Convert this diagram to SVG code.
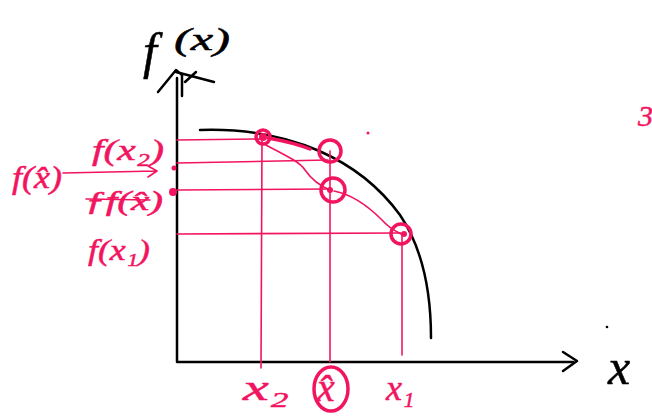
<svg xmlns="http://www.w3.org/2000/svg" width="652" height="416" viewBox="0 0 652 416">
<style>
.ax{fill:none;stroke:#000;stroke-width:2.5;stroke-linecap:round;stroke-linejoin:round}
.pk{fill:none;stroke:#f2145f;stroke-width:1.6;stroke-linecap:round;stroke-linejoin:round}
.pkc{fill:none;stroke:#f2145f;stroke-width:3.5}
.pt{font-family:"Liberation Serif",serif;font-style:italic;fill:#f2145f;stroke:#f2145f;stroke-width:0.5}
.bt{font-family:"Liberation Serif",serif;font-style:italic;fill:#000;stroke:#000;stroke-width:0.5}
</style>
<rect width="652" height="416" fill="#fff"/>
<g id="axes">
<path class="ax" d="M177,78 L177,362 L573,362"/>
<path class="ax" d="M563,352 L577,361 L563,371"/>
<path class="ax" d="M158,92 L176,70 L182,75 M182,75 L182,96 M176,72 L214,82 M185,82 L196,72"/>
<circle cx="607" cy="327" r="1.3" fill="#000"/>
</g>
<g id="curve">
<path class="ax" d="M200,130 C290,127 360,160 400,215 C425,252 431,300 431,338"/>
</g>
<g id="connectors">
<path class="pk" d="M177,140 L262,139"/>
<path class="pk" d="M177,163 L328,160"/>
<path class="pk" d="M177,190 L330,189"/>
<path class="pk" d="M177,234 L401,233"/>
<path class="pk" d="M262,139 L261,368"/>
<path class="pk" d="M330,151 L330,362"/>
<path class="pk" d="M402,234 L402,355"/>
<path class="pk" d="M262,143 C285,155 300,162 305,170 C312,180 320,186 330,190"/>
<path class="pk" d="M334,191 C355,195 372,210 382,220 C388,227 395,231 401,234"/>
<path d="M268,138 C285,141 300,145 310,149" fill="none" stroke="#f2145f" stroke-width="3.5" stroke-linecap="round"/>
<path class="pk" d="M63,173 L156,171 M148,166 L157,171 L148,177"/>
</g>
<g id="points">
<circle class="pkc" cx="263" cy="137" r="7"/>
<circle cx="263" cy="137" r="4" fill="#f2145f"/>
<circle class="pkc" cx="330" cy="151" r="11"/>
<circle class="pkc" cx="333" cy="190" r="12"/>
<circle cx="330" cy="190" r="3" fill="#f2145f"/>
<circle class="pkc" cx="401" cy="234" r="10"/>
<circle cx="404" cy="234" r="3" fill="#f2145f"/>
<circle cx="173" cy="192" r="4" fill="#f2145f"/>
<circle cx="174" cy="168" r="2.5" fill="#f2145f"/>
<circle cx="368" cy="133" r="1.5" fill="#f2145f"/>
</g>
<g id="labels">
<text class="bt" x="143" y="68" font-size="50">f</text>
<text class="bt" x="174" y="50" font-size="32" textLength="56" lengthAdjust="spacingAndGlyphs">(x)</text>
<text class="bt" x="608" y="384" font-size="50">x</text>
<text class="pt" x="12" y="188" font-size="32" textLength="50" lengthAdjust="spacingAndGlyphs">f(x̂)</text>
<text class="pt" x="92" y="160" font-size="30" textLength="72" lengthAdjust="spacingAndGlyphs">f(x₂)</text>
<text class="pt" x="85" y="210" font-size="28" textLength="78" lengthAdjust="spacingAndGlyphs">ƒf(x̂)</text>
<path class="pk" d="M86,199 L150,200" stroke-width="2.5"/>
<text class="pt" x="88" y="260" font-size="30" textLength="62" lengthAdjust="spacingAndGlyphs">f(x₁)</text>
<text class="pt" x="243" y="400" font-size="36" textLength="46" lengthAdjust="spacingAndGlyphs">x₂</text>
<text class="pt" x="317" y="401" font-size="40">x̂</text>
<ellipse class="pkc" cx="331" cy="389" rx="17" ry="22" stroke-width="2.5"/>
<text class="pt" x="386" y="400" font-size="36">x₁</text>
<text class="pt" x="638" y="126" font-size="30">3</text>
</g>
</svg>
